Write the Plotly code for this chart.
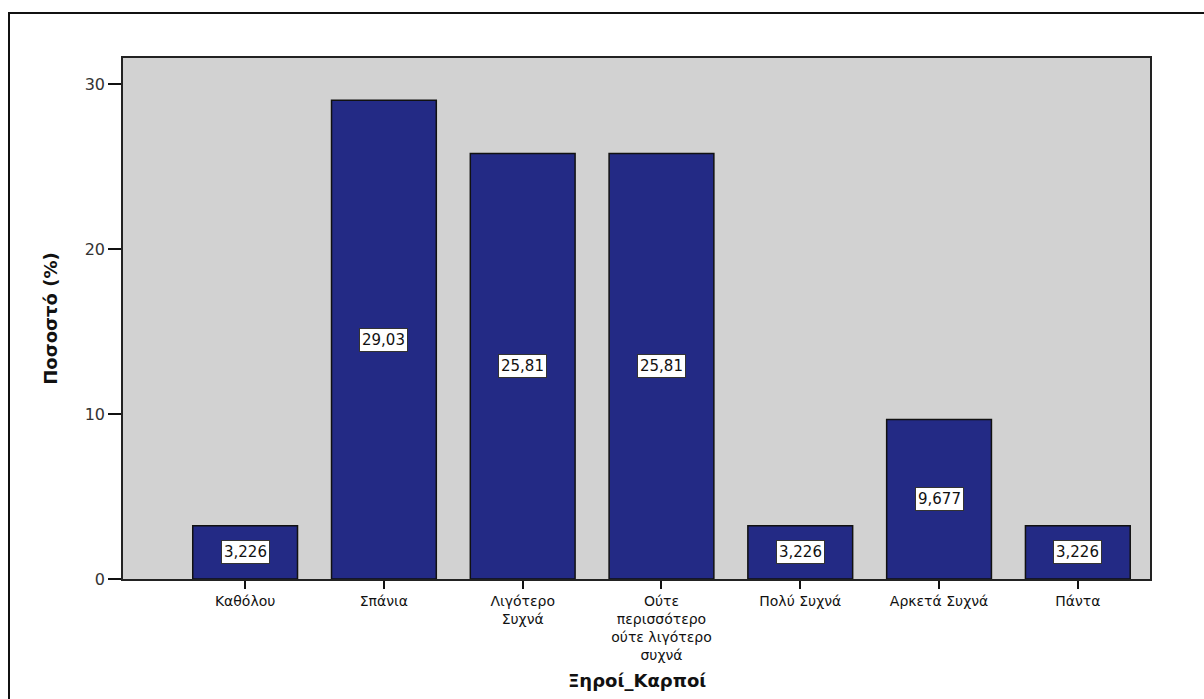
import plotly.graph_objects as go

# Frequency of nut consumption (percent of respondents)
categories = [
    "Καθόλου",
    "Σπάνια",
    "Λιγότερο<br>Συχνά",
    "Ούτε<br>περισσότερο<br>ούτε λιγότερο<br>συχνά",
    "Πολύ Συχνά",
    "Αρκετά Συχνά",
    "Πάντα",
]
percentages = [3.226, 29.03, 25.81, 25.81, 3.226, 9.677, 3.226]
value_labels = ["3,226", "29,03", "25,81", "25,81", "3,226", "9,677", "3,226"]
y_ticks = [0, 10, 20, 30]
x_title = "Ξηροί_Καρποί"
y_title = "Ποσοστό (%)"

FONT = "DejaVu Sans, Verdana, sans-serif"

x_pos = list(range(len(categories)))

fig = go.Figure()
fig.add_trace(go.Bar(
    x=x_pos,
    y=percentages,
    width=0.755,
    marker=dict(color="#232A85", line=dict(color="#111111", width=1.5)),
    hoverinfo="skip",
))

# Value labels in white boxes at mid-height of each bar
for xi, v, lab in zip(x_pos, percentages, value_labels):
    fig.add_annotation(
        x=xi, y=v / 2, xref="x", yref="y", text=lab, showarrow=False,
        font=dict(family=FONT, size=15, color="#111111"),
        bgcolor="white", bordercolor="#333333", borderwidth=1, borderpad=2,
    )

# X axis title placed below the multi-line category labels
fig.add_annotation(
    x=0.5, y=-0.194, xref="paper", yref="paper", xanchor="center", yanchor="middle",
    text=f"<b>{x_title}</b>", showarrow=False,
    font=dict(family=FONT, size=18, color="#111111"),
)

# Outer chart frame
fig.add_shape(
    type="rect", xref="paper", yref="paper",
    x0=-0.111, x1=1.2, y0=-0.4, y1=1.0864,
    line=dict(color="#111111", width=2), fillcolor="rgba(0,0,0,0)", layer="below",
)

fig.update_layout(
    width=1204, height=699,
    margin=dict(l=123, r=54, t=58, b=120),
    paper_bgcolor="white",
    plot_bgcolor="#D2D2D2",
    showlegend=False,
    font=dict(family=FONT, size=14, color="#111111"),
    xaxis=dict(
        range=[-0.88, 6.52],
        tickmode="array", tickvals=x_pos, ticktext=categories,
        ticks="outside", ticklen=8, tickcolor="#111111", tickwidth=1.5,
        showline=True, linecolor="#222222", linewidth=1.5, mirror=True,
        showgrid=False, zeroline=False,
        tickfont=dict(family=FONT, size=14, color="#111111"),
    ),
    yaxis=dict(
        range=[0, 31.6],
        tickmode="array", tickvals=y_ticks,
        ticks="outside", ticklen=13, tickcolor="#111111", tickwidth=1.5,
        showline=True, linecolor="#222222", linewidth=1.5, mirror=True,
        showgrid=False, zeroline=False,
        tickfont=dict(family=FONT, size=16, color="#333333"),
        title=dict(text=f"<b>{y_title}</b>", font=dict(family=FONT, size=18, color="#111111"), standoff=22),
    ),
)

fig.write_html("out.html")
